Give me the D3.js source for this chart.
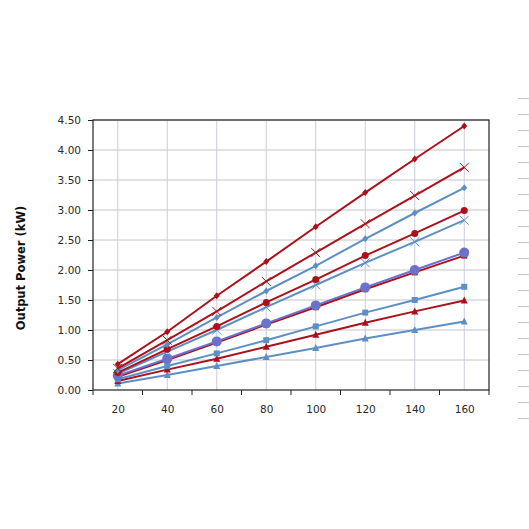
<!DOCTYPE html>
<html>
<head>
<meta charset="utf-8">
<script src="https://cdn.jsdelivr.net/npm/d3@7"></script>
<style>
  body { margin: 0; background: #fff; }
  svg { display: block; }
</style>
</head>
<body>
<script>
  // speed values along the bottom
  var speeds = [20, 40, 60, 80, 100, 120, 140, 160];
  var yTicks = [0, 0.5, 1, 1.5, 2, 2.5, 3, 3.5, 4, 4.5];

  // output power per curve (kW), top to bottom at 160
  var s1 = [0.43, 0.97, 1.57, 2.14, 2.72, 3.29, 3.85, 4.40];
  var s2 = [0.36, 0.83, 1.31, 1.81, 2.29, 2.77, 3.24, 3.71];
  var s3 = [0.33, 0.76, 1.21, 1.65, 2.07, 2.52, 2.95, 3.37];
  var s4 = [0.29, 0.68, 1.06, 1.46, 1.84, 2.24, 2.61, 2.99];
  var s5 = [0.27, 0.64, 1.00, 1.38, 1.75, 2.12, 2.47, 2.83];
  var s6 = [0.24, 0.52, 0.81, 1.11, 1.41, 1.71, 2.00, 2.29];
  var s7 = [0.22, 0.50, 0.79, 1.09, 1.38, 1.68, 1.96, 2.24];
  var s8 = [0.18, 0.40, 0.61, 0.83, 1.06, 1.29, 1.50, 1.72];
  var s9 = [0.15, 0.34, 0.52, 0.72, 0.92, 1.12, 1.31, 1.49];
  var s10 = [0.11, 0.25, 0.40, 0.55, 0.70, 0.86, 1.00, 1.14];

  var red = "#ac111b", blue = "#5d8fc4", violet = "#6b72cc";
  // drawn bottom first so the top curves sit over
  var series = [
    {v: s10, c: blue, m: "tri"},
    {v: s9, c: red, m: "tri"},
    {v: s8, c: blue, m: "sq"},
    {v: s7, c: red, m: "sq"},
    {v: s6, c: violet, m: "bigcircle"},
    {v: s5, c: blue, m: "x"},
    {v: s4, c: red, m: "circle"},
    {v: s3, c: blue, m: "diamond"},
    {v: s2, c: red, m: "x"},
    {v: s1, c: red, m: "diamond"}
  ];

  var width = 529, height = 529;
  var svg = d3.select("body").append("svg")
    .attr("width", width)
    .attr("height", height);

  var x = d3.scaleLinear().domain([10, 170]).range([93, 489]);
  var y = d3.scaleLinear().domain([0, 4.5]).range([390, 120]);

  // grid
  svg.append("g").selectAll("line").data(yTicks.slice(1)).enter().append("line")
    .attr("x1", x(10)).attr("x2", x(170))
    .attr("y1", function(d) { return y(d); }).attr("y2", function(d) { return y(d); })
    .attr("stroke", "#c4c4c4").attr("stroke-width", 1);
  svg.append("g").selectAll("line").data(speeds).enter().append("line")
    .attr("x1", function(d) { return x(d); }).attr("x2", function(d) { return x(d); })
    .attr("y1", y(4.5)).attr("y2", y(0))
    .attr("stroke", "#c9cbdc").attr("stroke-width", 1);

  // frame
  svg.append("rect")
    .attr("x", x(10)).attr("y", y(4.5))
    .attr("width", x(170) - x(10)).attr("height", y(0) - y(4.5))
    .attr("fill", "none").attr("stroke", "#222").attr("stroke-width", 1.2);

  // y axis
  var yAxis = d3.axisLeft(y).tickValues(yTicks).tickSize(5).tickPadding(6)
    .tickFormat(d3.format(".2f"));
  var gy = svg.append("g").attr("transform", "translate(" + x(10) + ",0)").call(yAxis);
  gy.select(".domain").remove();
  gy.selectAll("line").attr("stroke", "#222");
  gy.selectAll("text").attr("font-family", "DejaVu Sans, sans-serif")
    .attr("font-size", "10.5px").attr("fill", "#2a2a2a").attr("dx", "-1");

  // x axis: labels on the category centres, ticks between them
  var xAxis = d3.axisBottom(x).tickValues(speeds).tickSize(0).tickPadding(16);
  var gx = svg.append("g").attr("transform", "translate(0," + y(0) + ")").call(xAxis);
  gx.select(".domain").remove();
  gx.selectAll("text").attr("font-family", "DejaVu Sans, sans-serif")
    .attr("font-size", "10.5px").attr("fill", "#2a2a2a");
  var bounds = d3.range(10, 171, 20);
  svg.append("g").selectAll("line").data(bounds).enter().append("line")
    .attr("x1", function(d) { return x(d); }).attr("x2", function(d) { return x(d); })
    .attr("y1", y(0)).attr("y2", y(0) + 5)
    .attr("stroke", "#222").attr("stroke-width", 1);

  svg.append("text")
    .attr("transform", "translate(25,268) rotate(-90)")
    .attr("text-anchor", "middle")
    .attr("font-family", "DejaVu Sans, sans-serif")
    .attr("font-size", "11.5px")
    .attr("font-weight", "bold")
    .attr("fill", "#111")
    .text("Output Power (kW)");

  // lines and markers
  var line = d3.line()
    .x(function(d, i) { return x(speeds[i]); })
    .y(function(d) { return y(d); });

  series.forEach(function(s) {
    var g = svg.append("g");
    g.append("path").datum(s.v).attr("d", line)
      .attr("fill", "none").attr("stroke", s.c).attr("stroke-width", 2);
    var pts = g.selectAll("g").data(s.v).enter().append("g")
      .attr("transform", function(d, i) { return "translate(" + x(speeds[i]) + "," + y(d) + ")"; });
    if (s.m === "x") {
      pts.append("path").attr("d", "M-4.5,-4.5L4.5,4.5M-4.5,4.5L4.5,-4.5")
        .attr("stroke", s.c).attr("stroke-width", 1).attr("fill", "none");
    } else if (s.m === "bigcircle") {
      pts.append("circle").attr("r", 5).attr("fill", s.c);
    } else if (s.m === "circle") {
      pts.append("circle").attr("r", 3.5).attr("fill", s.c);
    } else if (s.m === "sq") {
      pts.append("rect").attr("x", -3).attr("y", -3).attr("width", 6).attr("height", 6).attr("fill", s.c);
    } else if (s.m === "tri") {
      pts.append("path").attr("d", "M0,-4L3.5,3L-3.5,3Z").attr("fill", s.c);
    } else {
      pts.append("path").attr("d", "M0,-3.5L3,0L0,3.5L-3,0Z").attr("fill", s.c);
    }
  });

  // cut-off rules at the right edge
  svg.append("g").selectAll("line").data(d3.range(21)).enter().append("line")
    .attr("x1", 518).attr("x2", 529)
    .attr("y1", function(d) { return 98.5 + d * 16; })
    .attr("y2", function(d) { return 98.5 + d * 16; })
    .attr("stroke", "#c8c8c8").attr("stroke-width", 1);
</script>
</body>
</html>
